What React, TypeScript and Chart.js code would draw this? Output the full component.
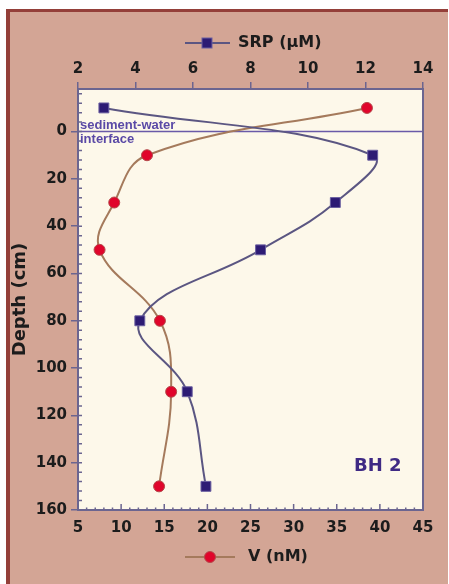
import React, { useEffect, useRef } from "react";
import { Chart, registerables } from "chart.js";

Chart.register(...registerables);

// ---- data ----
const depths = [-10, 10, 30, 50, 80, 110, 150];
const srpValues = [2.9, 12.25, 10.95, 8.35, 4.15, 5.8, 6.45];
const vValues = [38.5, 13.0, 9.2, 7.5, 14.5, 15.8, 14.4];

const srpTicks = [2, 4, 6, 8, 10, 12, 14];
const vTicks = [5, 10, 15, 20, 25, 30, 35, 40, 45];
const depthTicks = [0, 20, 40, 60, 80, 100, 120, 140, 160];

const srpLabel = "SRP (\u03BCM)";
const vLabel = "V (nM)";
const depthLabel = "Depth (cm)";
const interfaceLabel = ["sediment-water", "interface"];
const siteLabel = "BH 2";

// ---- styles ----
const FONT = "'DejaVu Sans', Verdana, sans-serif";
const FONT2 = "'Liberation Sans', Arial, Helvetica, sans-serif";
const TAN = "#d3a595";
const BORDER = "#943f39";
const CREAM = "#fdf8ea";
const AXIS = "#6b6590";
const SRP_LINE = "#5b5682";
const SRP_FILL = "#2d1b74";
const SRP_EDGE = "#6a5fa0";
const V_LINE = "#a57a5c";
const V_FILL = "#e0052b";
const V_EDGE = "#b5484a";
const TEXT = "#1c1c1c";
const PURPLE_TEXT = "#5a49a6";
const SITE_TEXT = "#3f2a84";

const decor = {
  id: "decor",
  beforeDraw(chart: any) {
    const { ctx, chartArea: a, width, height } = chart;
    ctx.save();
    ctx.fillStyle = "#ffffff";
    ctx.fillRect(0, 0, width, height);
    ctx.fillStyle = TAN;
    ctx.fillRect(6, 9, 442, height - 9);
    ctx.fillStyle = BORDER;
    ctx.fillRect(6, 9, 442, 3);
    ctx.fillRect(6, 9, 4, height - 9);
    ctx.fillStyle = CREAM;
    ctx.fillRect(a.left, a.top, a.right - a.left, a.bottom - a.top);
    ctx.restore();
  },
  beforeDatasetsDraw(chart: any) {
    const { ctx, chartArea: a } = chart;
    const y0 = chart.scales.y.getPixelForValue(0);
    ctx.save();
    ctx.strokeStyle = "#6a5aa8";
    ctx.lineWidth = 1.5;
    ctx.beginPath();
    ctx.moveTo(a.left, y0);
    ctx.lineTo(a.right, y0);
    ctx.stroke();
    ctx.restore();
  },
  afterDraw(chart: any) {
    const { ctx, chartArea: a } = chart;
    const ys = chart.scales.y;
    const xs = chart.scales.x;
    ctx.save();
    // frame
    ctx.strokeStyle = AXIS;
    ctx.lineWidth = 2;
    ctx.strokeRect(a.left, a.top, a.right - a.left, a.bottom - a.top);
    // left minor ticks (inward)
    ctx.lineWidth = 1.5;
    ctx.beginPath();
    for (let v = -16; v <= 160; v += 4) {
      const y = ys.getPixelForValue(v);
      ctx.moveTo(a.left, y);
      ctx.lineTo(a.left + 4, y);
    }
    // bottom ticks (inward)
    for (let v = 5; v <= 45; v += 1) {
      const x = xs.getPixelForValue(v);
      const len = v % 5 === 0 ? 6 : 2.5;
      ctx.moveTo(x, a.bottom);
      ctx.lineTo(x, a.bottom - len);
    }
    ctx.stroke();

    // interface text
    const y0 = ys.getPixelForValue(0);
    ctx.fillStyle = PURPLE_TEXT;
    ctx.font = `bold 13px ${FONT2}`;
    ctx.textAlign = "left";
    ctx.textBaseline = "alphabetic";
    ctx.fillText(interfaceLabel[0], a.left + 2, y0 - 3);
    ctx.fillText(interfaceLabel[1], a.left + 2, y0 + 11);

    // site label
    ctx.fillStyle = SITE_TEXT;
    ctx.font = `bold 18px ${FONT}`;
    ctx.textAlign = "left";
    ctx.textBaseline = "middle";
    ctx.fillText(siteLabel, 354, 466);

    // y title
    ctx.fillStyle = TEXT;
    ctx.font = `bold 18px ${FONT}`;
    ctx.translate(20, (a.top + a.bottom) / 2);
    ctx.rotate(-Math.PI / 2);
    ctx.textAlign = "center";
    ctx.textBaseline = "middle";
    ctx.fillText(depthLabel, 0, 0);
    ctx.setTransform(1, 0, 0, 1, 0, 0);

    // top legend (SRP)
    const ty = 43;
    ctx.strokeStyle = SRP_LINE;
    ctx.lineWidth = 2;
    ctx.beginPath();
    ctx.moveTo(185, ty);
    ctx.lineTo(230, ty);
    ctx.stroke();
    ctx.fillStyle = SRP_FILL;
    ctx.strokeStyle = SRP_EDGE;
    ctx.lineWidth = 1;
    ctx.fillRect(202, ty - 5, 10, 10);
    ctx.strokeRect(202, ty - 5, 10, 10);
    ctx.fillStyle = TEXT;
    ctx.font = `bold 16px ${FONT}`;
    ctx.textAlign = "left";
    ctx.textBaseline = "middle";
    ctx.fillText(srpLabel, 238, ty);

    // bottom legend (V)
    const by = 557;
    ctx.strokeStyle = V_LINE;
    ctx.lineWidth = 2;
    ctx.beginPath();
    ctx.moveTo(185, by);
    ctx.lineTo(235, by);
    ctx.stroke();
    ctx.fillStyle = V_FILL;
    ctx.strokeStyle = V_EDGE;
    ctx.lineWidth = 1;
    ctx.beginPath();
    ctx.arc(210, by, 5.5, 0, Math.PI * 2);
    ctx.fill();
    ctx.stroke();
    ctx.fillStyle = TEXT;
    ctx.font = `bold 16px ${FONT}`;
    ctx.fillText(vLabel, 248, by);
    ctx.restore();
  },
};

export default function App() {
  const canvasRef = useRef<HTMLCanvasElement | null>(null);

  useEffect(() => {
    const canvas = canvasRef.current;
    if (!canvas) return;
    const tickFont = { family: FONT, size: 15, weight: "bold" as const };
    const chart = new Chart(canvas, {
      type: "scatter",
      data: {
        datasets: [
          {
            label: srpLabel,
            data: depths.map((d, i) => ({ x: srpValues[i], y: d })),
            xAxisID: "x2",
            yAxisID: "y",
            showLine: true,
            tension: 0.4,
            borderColor: SRP_LINE,
            borderWidth: 2,
            pointStyle: "rect",
            pointRadius: 7,
            pointBackgroundColor: SRP_FILL,
            pointBorderColor: SRP_EDGE,
            pointBorderWidth: 1,
          },
          {
            label: vLabel,
            data: depths.map((d, i) => ({ x: vValues[i], y: d })),
            xAxisID: "x",
            yAxisID: "y",
            showLine: true,
            tension: 0.4,
            borderColor: V_LINE,
            borderWidth: 2,
            pointStyle: "circle",
            pointRadius: 5.5,
            pointBackgroundColor: V_FILL,
            pointBorderColor: V_EDGE,
            pointBorderWidth: 1,
          },
        ],
      },
      options: {
        responsive: false,
        animation: false,
        layout: { padding: { left: 0, top: 0, right: 26, bottom: 0 } },
        plugins: { legend: { display: false }, tooltip: { enabled: false } },
        scales: {
          x: {
            type: "linear",
            position: "bottom",
            min: 5,
            max: 45,
            afterBuildTicks: (s: any) => {
              s.ticks = vTicks.map((v) => ({ value: v }));
            },
            afterFit: (s: any) => {
              s.height = 74;
            },
            grid: { display: false, drawTicks: false },
            border: { display: false },
            ticks: { font: tickFont, color: TEXT, padding: 9, maxRotation: 0, autoSkip: false },
          },
          x2: {
            type: "linear",
            position: "top",
            min: 2,
            max: 14,
            afterBuildTicks: (s: any) => {
              s.ticks = srpTicks.map((v) => ({ value: v }));
            },
            afterFit: (s: any) => {
              s.height = 89;
            },
            grid: { display: true, drawOnChartArea: false, drawTicks: true, tickLength: 7, color: AXIS, lineWidth: 1.5 },
            border: { display: false },
            ticks: { font: tickFont, color: TEXT, padding: 4, maxRotation: 0, autoSkip: false },
          },
          y: {
            type: "linear",
            position: "left",
            reverse: true,
            min: -18,
            max: 160,
            afterBuildTicks: (s: any) => {
              s.ticks = depthTicks.map((v) => ({ value: v }));
            },
            afterFit: (s: any) => {
              s.width = 78;
            },
            grid: { display: true, drawOnChartArea: false, drawTicks: true, tickLength: 7, color: AXIS, lineWidth: 1.5 },
            border: { display: false },
            ticks: { font: tickFont, color: TEXT, padding: 4, autoSkip: false },
          },
        },
      },
      plugins: [decor],
    });
    return () => chart.destroy();
  }, []);

  return (
    <div style={{ position: "fixed", left: 0, top: 0, width: 449, height: 584, overflow: "hidden" }}>
      <canvas ref={canvasRef} width={449} height={584} style={{ display: "block", width: 449, height: 584 }} />
    </div>
  );
}
